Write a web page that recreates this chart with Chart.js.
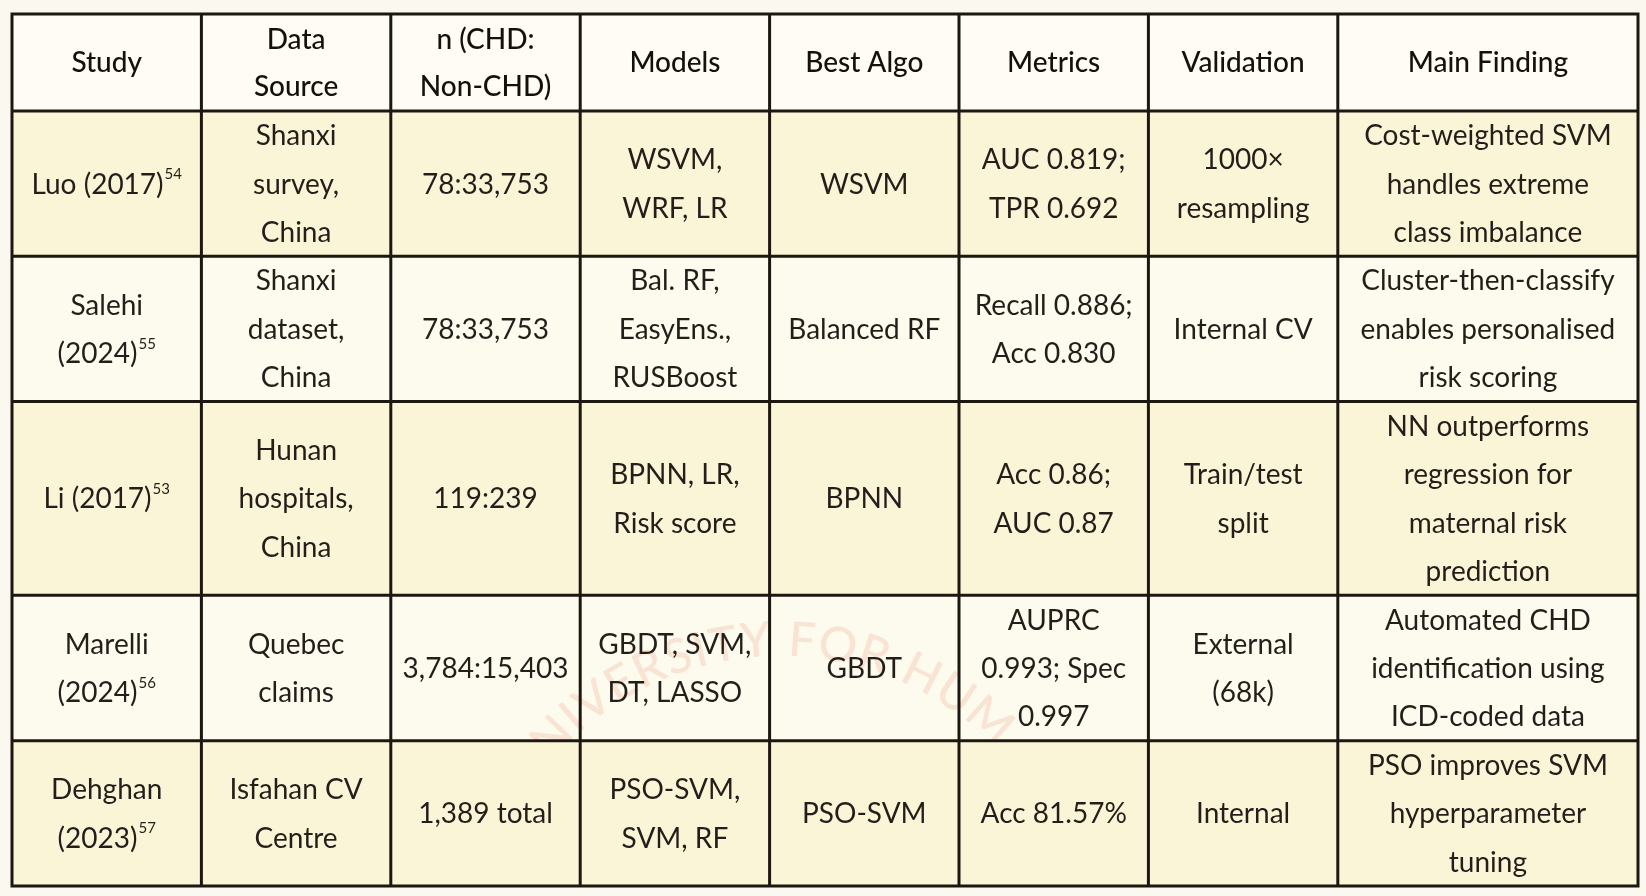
<!DOCTYPE html>
<html>
<head>
<meta charset="utf-8">
<script src="https://cdn.jsdelivr.net/npm/chart.js@4.4.1/dist/chart.umd.min.js"></script>
<style>
  html, body { margin: 0; padding: 0; background: #fbf9ef; }
  #wrap { width: 1646px; height: 896px; }
</style>
</head>
<body>
<div id="wrap"><canvas id="table-chart"></canvas></div>
<script>
// Table content (one array per column, one entry per study)
const headers = ["Study", "Data\nSource", "n (CHD:\nNon-CHD)", "Models", "Best Algo", "Metrics", "Validation", "Main Finding"];
const studyNames = ["Luo (2017)", "Salehi\n(2024)", "Li (2017)", "Marelli\n(2024)", "Dehghan\n(2023)"];
const studyRefs = ["54", "55", "53", "56", "57"];
const dataSources = ["Shanxi\nsurvey,\nChina", "Shanxi\ndataset,\nChina", "Hunan\nhospitals,\nChina", "Quebec\nclaims", "Isfahan CV\nCentre"];
const sampleSizes = ["78:33,753", "78:33,753", "119:239", "3,784:15,403", "1,389 total"];
const models = ["WSVM,\nWRF, LR", "Bal. RF,\nEasyEns.,\nRUSBoost", "BPNN, LR,\nRisk score", "GBDT, SVM,\nDT, LASSO", "PSO-SVM,\nSVM, RF"];
const bestAlgos = ["WSVM", "Balanced RF", "BPNN", "GBDT", "PSO-SVM"];
const metrics = ["AUC 0.819;\nTPR 0.692", "Recall 0.886;\nAcc 0.830", "Acc 0.86;\nAUC 0.87", "AUPRC\n0.993; Spec\n0.997", "Acc 81.57%"];
const validations = ["1000×\nresampling", "Internal CV", "Train/test\nsplit", "External\n(68k)", "Internal"];
const findings = [
  "Cost-weighted SVM\nhandles extreme\nclass imbalance",
  "Cluster-then-classify\nenables personalised\nrisk scoring",
  "NN outperforms\nregression for\nmaternal risk\nprediction",
  "Automated CHD\nidentification using\nICD-coded data",
  "PSO improves SVM\nhyperparameter\ntuning"
];
const watermarkText = "UNIVERSITY FOR HUM";

const columns = [studyNames, dataSources, sampleSizes, models, bestAlgos, metrics, validations, findings];

// layout: column widths in table units, rows sized by their line count
const colWidths = [1, 1, 1, 1, 1, 1, 1, 1.585];
const splitLines = s => s.split("\n");
const colEdges = [0];
colWidths.forEach(w => colEdges.push(colEdges[colEdges.length - 1] + w));
const rowLines = [Math.max(...headers.map(h => splitLines(h).length))]
  .concat(studyNames.map((_, r) => Math.max(...columns.map(c => splitLines(c[r]).length))));
const rowEdges = [0];
rowLines.forEach(n => rowEdges.push(rowEdges[rowEdges.length - 1] + n));

// one point per cell, at its centre
const cells = [];
rowLines.forEach((_, r) => {
  colWidths.forEach((_, c) => {
    cells.push({
      x: (colEdges[c] + colEdges[c + 1]) / 2,
      y: (rowEdges[r] + rowEdges[r + 1]) / 2,
      row: r,
      col: c,
      text: r === 0 ? headers[c] : columns[c][r - 1],
      sup: (r > 0 && c === 0) ? studyRefs[r - 1] : null
    });
  });
});

const FONT = "Lato, 'Open Sans', sans-serif";
const HEADER_BG = "#fefcf4";
const ODD_BG = "#fbf5d7";
const EVEN_BG = "#fdfaee";
const BORDER = "#1d1712";

const tablePlugin = {
  id: "tableCells",
  beforeDatasetsDraw(chart) {
    const { ctx, scales: { x, y } } = chart;
    ctx.save();
    rowLines.forEach((_, r) => {
      const top = y.getPixelForValue(rowEdges[r]);
      const bot = y.getPixelForValue(rowEdges[r + 1]);
      ctx.fillStyle = r === 0 ? HEADER_BG : (r % 2 ? ODD_BG : EVEN_BG);
      ctx.fillRect(x.left, top, x.right - x.left, bot - top);
    });

    // faint watermark, only showing through the Marelli row
    const top4 = y.getPixelForValue(rowEdges[4]);
    const bot4 = y.getPixelForValue(rowEdges[5]);
    ctx.beginPath();
    ctx.rect(x.left, top4, x.right - x.left, bot4 - top4);
    ctx.clip();
    const cx = x.getPixelForValue(4) + 10;
    const cy = top4 + 360;
    const radius = 315;
    ctx.font = "500 48px " + FONT;
    ctx.fillStyle = "rgba(232, 110, 80, 0.17)";
    ctx.textAlign = "center";
    ctx.textBaseline = "middle";
    const spacing = 3;
    const widths = [...watermarkText].map(ch => ctx.measureText(ch).width + spacing);
    const spaceIdx = watermarkText.indexOf(" ");
    let offset = -(widths.slice(0, spaceIdx).reduce((a, b) => a + b, 0) + widths[spaceIdx] / 2);
    [...watermarkText].forEach((ch, i) => {
      const a = (offset + widths[i] / 2) / radius;
      offset += widths[i];
      ctx.save();
      ctx.translate(cx + radius * Math.sin(a), cy - radius * Math.cos(a));
      ctx.rotate(a);
      ctx.fillText(ch, 0, 0);
      ctx.restore();
    });
    ctx.restore();
  },
  afterDatasetsDraw(chart) {
    const { ctx, scales: { x, y } } = chart;
    const lineH = y.getPixelForValue(1) - y.getPixelForValue(0);
    const meta = chart.getDatasetMeta(0);
    ctx.save();
    ctx.textBaseline = "middle";
    meta.data.forEach((pt, i) => {
      const cell = chart.data.datasets[0].data[i];
      const ls = splitLines(cell.text);
      const step = cell.row === 0 ? lineH * 0.97 : lineH;
      ctx.fillStyle = cell.row === 0 ? "#15100c" : "#241e1a";
      ls.forEach((line, k) => {
        const ly = pt.y + (k - (ls.length - 1) / 2) * step + 1;
        const bodyFont = "400 28px " + FONT;
        ctx.font = cell.row === 0 ? "500 28px " + FONT : bodyFont;
        if (cell.sup && k === ls.length - 1) {
          const mainW = ctx.measureText(line).width;
          ctx.font = "400 15px " + FONT;
          const supW = ctx.measureText(cell.sup).width;
          const startX = pt.x - (mainW + supW + 1) / 2;
          ctx.textAlign = "left";
          ctx.fillText(cell.sup, startX + mainW + 1, ly - 10);
          ctx.font = bodyFont;
          ctx.fillText(line, startX, ly);
        } else {
          ctx.textAlign = "center";
          ctx.fillText(line, pt.x, ly);
        }
      });
    });

    // grid lines
    ctx.strokeStyle = BORDER;
    ctx.lineWidth = 3;
    ctx.beginPath();
    colEdges.forEach(v => {
      const px = x.getPixelForValue(v);
      ctx.moveTo(px, y.top - 1.5);
      ctx.lineTo(px, y.bottom + 1.5);
    });
    rowEdges.forEach(v => {
      const py = y.getPixelForValue(v);
      ctx.moveTo(x.left - 1.5, py);
      ctx.lineTo(x.right + 1.5, py);
    });
    ctx.stroke();
    ctx.restore();
  }
};

new Chart(document.getElementById("table-chart"), {
  type: "scatter",
  data: {
    datasets: [{
      label: "cells",
      data: cells,
      pointRadius: 0,
      pointHoverRadius: 0
    }]
  },
  options: {
    responsive: true,
    maintainAspectRatio: false,
    animation: false,
    events: [],
    layout: { padding: { left: 12, top: 14, right: 8, bottom: 10 } },
    plugins: { legend: { display: false }, tooltip: { enabled: false } },
    scales: {
      x: { type: "linear", display: false, min: 0, max: colEdges[colEdges.length - 1] },
      y: { type: "linear", display: false, min: 0, max: rowEdges[rowEdges.length - 1], reverse: true }
    }
  },
  plugins: [tablePlugin]
});
</script>
</body>
</html>
